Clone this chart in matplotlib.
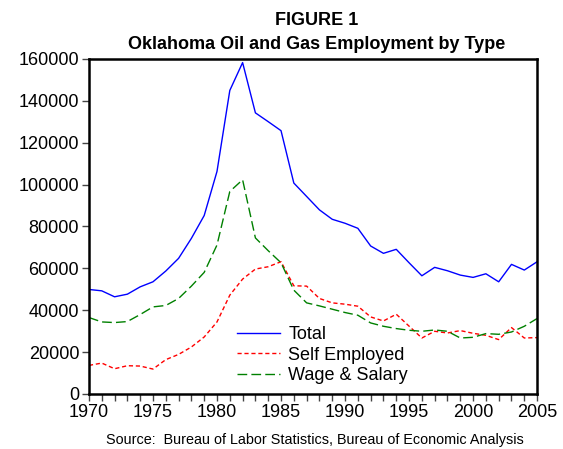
import numpy as np
import matplotlib
matplotlib.use("Agg")
import matplotlib.pyplot as plt
from matplotlib.ticker import MultipleLocator

plt.rcParams['font.family'] = ['Liberation Sans', 'DejaVu Sans']

years = list(range(1970, 2006))
total = [49900, 49250, 46400, 47650, 51150, 53560, 58700, 64750, 74300, 85200,
         106250, 144900, 158200, 134200, 130000, 125700, 100700, 94300, 87900, 83400,
         81500, 79100, 70650, 67150, 69060, 62650, 56430, 60450, 58830, 56760,
         55660, 57390, 53560, 61880, 59160, 63130]
self_employed = [13650, 14760, 12060, 13500, 13340, 11900, 16400, 18900, 22430, 27220,
                 34400, 47180, 54850, 59640, 60750, 63150, 51650, 51500, 45600, 43500,
                 42870, 41910, 36790, 34870, 38080, 32400, 26730, 29940, 29120, 30270,
                 28980, 28020, 25960, 31710, 26730, 26920]
wage_salary = [36500, 34400, 34100, 34580, 37930, 41580, 42250, 45600, 51500, 58050,
               71130, 96670, 102270, 74500, 68400, 62650, 49580, 43500, 42060, 40480,
               38890, 37600, 33920, 32330, 31230, 30420, 29940, 30560, 29940, 26730,
               27060, 28830, 28500, 29600, 32330, 36020]

fig = plt.figure(figsize=(5.63, 4.49), dpi=100)
ax = fig.add_axes([0.158, 0.1225, 0.796, 0.7465])

ax.plot(years, total, color='#0000ff', lw=1.0, label='Total')
ax.plot(years, self_employed, color='#ff0000', lw=1.0, dashes=(3, 2), label='Self Employed')
ax.plot(years, wage_salary, color='#008000', lw=1.0, dashes=(7, 3), label='Wage & Salary')

ax.set_xlim(1970, 2005)
ax.set_ylim(0, 160000)
ax.xaxis.set_major_locator(MultipleLocator(5))
ax.xaxis.set_minor_locator(MultipleLocator(1))
ax.yaxis.set_major_locator(MultipleLocator(20000))
ax.tick_params(axis='both', which='both', direction='out', labelsize=13,
               width=1, color='#444444')
ax.tick_params(axis='x', which='major', length=5, pad=2)
ax.tick_params(axis='x', which='minor', length=5)
ax.tick_params(axis='y', which='major', length=5, pad=2)
for s in ax.spines.values():
    s.set_linewidth(1.8)

fig.text(0.562, 0.955, 'FIGURE 1', ha='center', va='center', fontsize=13, fontweight='bold')
fig.text(0.562, 0.90, 'Oklahoma Oil and Gas Employment by Type', ha='center', va='center',
         fontsize=13, fontweight='bold')
fig.text(0.559, 0.02, 'Source:  Bureau of Labor Statistics, Bureau of Economic Analysis',
         ha='center', va='center', fontsize=10.4)

ax.legend(loc='upper left', bbox_to_anchor=(0.421, 0.274), bbox_transform=fig.transFigure,
          frameon=False, fontsize=13, handlelength=2.4, handletextpad=0.45,
          labelspacing=0.2, borderaxespad=0, borderpad=0)

fig.savefig('out.png', dpi=100)
